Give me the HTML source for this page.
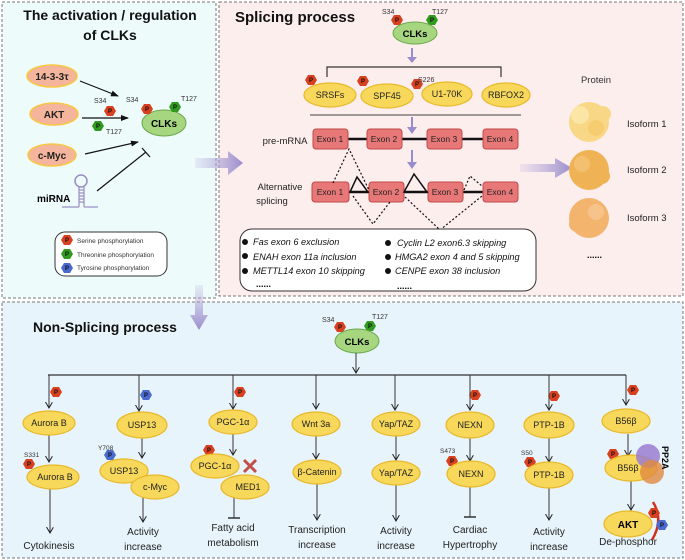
<!DOCTYPE html>
<html><head><meta charset="utf-8"><style>
html,body{margin:0;padding:0;background:#fff}
svg{display:block}
text{font-family:"Liberation Sans",sans-serif}
</style></head><body>
<svg width="685" height="560" viewBox="0 0 685 560" xmlns="http://www.w3.org/2000/svg">
<defs>
<linearGradient id="ga" x1="0" x2="1"><stop offset="0" stop-color="#b9b0dc" stop-opacity="0.2"/><stop offset="1" stop-color="#9a8ccc"/></linearGradient>
<linearGradient id="gd" x1="0" y1="0" x2="0" y2="1"><stop offset="0" stop-color="#b9b0dc" stop-opacity="0.2"/><stop offset="1" stop-color="#9a8ccc"/></linearGradient>
<marker id="ar" markerWidth="8" markerHeight="8" refX="6" refY="3.5" orient="auto" markerUnits="userSpaceOnUse"><path d="M0,0 L6,3.5 L0,7" fill="none" stroke="#222" stroke-width="1"/></marker>
<marker id="arf" markerWidth="8" markerHeight="8" refX="7" refY="4" orient="auto" markerUnits="userSpaceOnUse"><path d="M0,1 L8,4 L0,7z" fill="#111"/></marker>
</defs>
<rect x="2" y="2" width="214" height="296" fill="#eefbfb" stroke="#777" stroke-dasharray="3,2"/>
<rect x="219" y="2" width="464" height="294" fill="#fdeeee" stroke="#777" stroke-dasharray="3,2"/>
<rect x="2" y="302" width="681" height="256" fill="#e8f4fb" stroke="#777" stroke-dasharray="3,2"/>

<text x="110" y="20" font-size="14" font-weight="bold" text-anchor="middle" fill="#111">The activation / regulation</text>
<text x="110" y="40" font-size="14" font-weight="bold" text-anchor="middle" fill="#111">of CLKs</text>
<g stroke="#f7c842" stroke-width="1.5" fill="#f4b59c">
<ellipse cx="52" cy="76" rx="25" ry="11"/><ellipse cx="54" cy="114" rx="24" ry="11"/><ellipse cx="52" cy="155" rx="24" ry="11"/></g>
<g font-size="10" font-weight="bold" text-anchor="middle" fill="#222">
<text x="52" y="80">14-3-3τ</text><text x="54" y="118">AKT</text><text x="52" y="159">c-Myc</text></g>
<g stroke="#111" stroke-width="1.2" fill="none">
<line x1="80" y1="81" x2="118" y2="96" marker-end="url(#arf)"/>
<line x1="82" y1="118" x2="128" y2="118" marker-end="url(#arf)"/>
<line x1="85" y1="154" x2="138" y2="142" marker-end="url(#arf)"/>
<line x1="97" y1="191" x2="146" y2="152"/><line x1="142" y1="148" x2="150" y2="157"/></g>
<ellipse cx="164" cy="123" rx="22" ry="13" fill="#a6d680" stroke="#6aa84a"/>
<text x="164" y="127" font-size="10" font-weight="bold" text-anchor="middle">CLKs</text>
<text x="37" y="202" font-size="10" font-weight="bold">miRNA</text>
<circle cx="81" cy="181" r="6" fill="none" stroke="#9a8cc4" stroke-width="1.5"/>
<g stroke="#9a8cc4" stroke-width="1.2"><line x1="79" y1="187" x2="79" y2="207"/><line x1="84" y1="187" x2="84" y2="207"/>
<line x1="79" y1="190" x2="84" y2="190"/><line x1="79" y1="193" x2="84" y2="193"/><line x1="79" y1="196" x2="84" y2="196"/><line x1="79" y1="199" x2="84" y2="199"/><line x1="79" y1="202" x2="84" y2="202"/>
<line x1="62" y1="207" x2="79" y2="207"/><line x1="84" y1="207" x2="98" y2="207"/></g>
<rect x="55" y="232" width="112" height="44" rx="10" fill="#fff" stroke="#333"/>
<g font-size="6.5" fill="#333"><text x="77" y="243">Serine phosphorylation</text><text x="77" y="257">Threonine phosphorylation</text><text x="77" y="270">Tyrosine phosphorylation</text></g>

<g>
<polygon transform="translate(67,240)" points="6,0 3,5 -3,5 -6,0 -3,-5 3,-5" fill="#d8401f"/>
<polygon transform="translate(67,254)" points="6,0 3,5 -3,5 -6,0 -3,-5 3,-5" fill="#2f9a1e"/>
<polygon transform="translate(67,268)" points="6,0 3,5 -3,5 -6,0 -3,-5 3,-5" fill="#4a6ad0"/>
<polygon transform="translate(110,111)" points="6,0 3,5 -3,5 -6,0 -3,-5 3,-5" fill="#d8401f"/>
<polygon transform="translate(98,126)" points="6,0 3,5 -3,5 -6,0 -3,-5 3,-5" fill="#2f9a1e"/>
<polygon transform="translate(147,109)" points="6,0 3,5 -3,5 -6,0 -3,-5 3,-5" fill="#d8401f"/>
<polygon transform="translate(175,107)" points="6,0 3,5 -3,5 -6,0 -3,-5 3,-5" fill="#2f9a1e"/>
<polygon transform="translate(397,20)" points="6,0 3,5 -3,5 -6,0 -3,-5 3,-5" fill="#d8401f"/>
<polygon transform="translate(432,20)" points="6,0 3,5 -3,5 -6,0 -3,-5 3,-5" fill="#2f9a1e"/>
<polygon transform="translate(311,80)" points="6,0 3,5 -3,5 -6,0 -3,-5 3,-5" fill="#d8401f"/>
<polygon transform="translate(363,81)" points="6,0 3,5 -3,5 -6,0 -3,-5 3,-5" fill="#d8401f"/>
<polygon transform="translate(417,84)" points="6,0 3,5 -3,5 -6,0 -3,-5 3,-5" fill="#d8401f"/>
<polygon transform="translate(340,327)" points="6,0 3,5 -3,5 -6,0 -3,-5 3,-5" fill="#d8401f"/>
<polygon transform="translate(370,326)" points="6,0 3,5 -3,5 -6,0 -3,-5 3,-5" fill="#2f9a1e"/>
<polygon transform="translate(56,392)" points="6,0 3,5 -3,5 -6,0 -3,-5 3,-5" fill="#d8401f"/>
<polygon transform="translate(146,395)" points="6,0 3,5 -3,5 -6,0 -3,-5 3,-5" fill="#4a6ad0"/>
<polygon transform="translate(240,392)" points="6,0 3,5 -3,5 -6,0 -3,-5 3,-5" fill="#d8401f"/>
<polygon transform="translate(475,395)" points="6,0 3,5 -3,5 -6,0 -3,-5 3,-5" fill="#d8401f"/>
<polygon transform="translate(554,396)" points="6,0 3,5 -3,5 -6,0 -3,-5 3,-5" fill="#d8401f"/>
<polygon transform="translate(633,390)" points="6,0 3,5 -3,5 -6,0 -3,-5 3,-5" fill="#d8401f"/>
<polygon transform="translate(29,464)" points="6,0 3,5 -3,5 -6,0 -3,-5 3,-5" fill="#d8401f"/>
<polygon transform="translate(110,455)" points="6,0 3,5 -3,5 -6,0 -3,-5 3,-5" fill="#4a6ad0"/>
<polygon transform="translate(209,450)" points="6,0 3,5 -3,5 -6,0 -3,-5 3,-5" fill="#d8401f"/>
<polygon transform="translate(452,461)" points="6,0 3,5 -3,5 -6,0 -3,-5 3,-5" fill="#d8401f"/>
<polygon transform="translate(530,462)" points="6,0 3,5 -3,5 -6,0 -3,-5 3,-5" fill="#d8401f"/>
<polygon transform="translate(613,454)" points="6,0 3,5 -3,5 -6,0 -3,-5 3,-5" fill="#d8401f"/>
</g>

<polygon points="195,158 228,158 228,151 243,163 228,175 228,168 195,168" fill="url(#ga)"/>
<polygon points="195,285 195,315 190,315 199,330 208,315 203,315 203,285" fill="url(#gd)"/>

<text x="235" y="22" font-size="15" font-weight="bold" fill="#111">Splicing process</text>
<ellipse cx="415" cy="33" rx="22" ry="11" fill="#a6d680" stroke="#6aa84a"/>
<text x="415" y="37" font-size="9.5" font-weight="bold" text-anchor="middle">CLKs</text>
<g font-size="7" fill="#333"><text x="382" y="14">S34</text><text x="432" y="14">T127</text></g>
<line x1="412" y1="48" x2="412" y2="58" stroke="#9a8ccc" stroke-width="2"/><polygon points="407,57 417,57 412,63" fill="#9a8ccc"/>
<path d="M327,77 V67 H501 V77" fill="none" stroke="#333" stroke-width="1.2"/>
<g fill="#f7d85a" stroke="#e8b82a" stroke-width="1.2">
<ellipse cx="330" cy="95" rx="26" ry="12"/><ellipse cx="387" cy="96" rx="26" ry="12"/><ellipse cx="447" cy="94" rx="25" ry="12"/><ellipse cx="506" cy="95" rx="24" ry="12"/></g>
<g font-size="9" text-anchor="middle" fill="#222"><text x="330" y="98">SRSFs</text><text x="387" y="99">SPF45</text><text x="447" y="97">U1-70K</text><text x="506" y="98">RBFOX2</text></g>
<text x="418" y="82" font-size="7" fill="#333">S226</text>
<line x1="310" y1="115" x2="521" y2="115" stroke="#444"/>
<line x1="412" y1="117" x2="412" y2="128" stroke="#9a8ccc" stroke-width="2"/><polygon points="407,127 417,127 412,134" fill="#9a8ccc"/>
<line x1="412" y1="150" x2="412" y2="163" stroke="#9a8ccc" stroke-width="2"/><polygon points="407,162 417,162 412,169" fill="#9a8ccc"/>
<text x="285" y="144" font-size="9.5" text-anchor="middle" fill="#222">pre-mRNA</text>
<text x="280" y="190" font-size="9.5" text-anchor="middle" fill="#222">Alternative</text>
<text x="272" y="204" font-size="9.5" text-anchor="middle" fill="#222">splicing</text>
<line x1="340" y1="139" x2="490" y2="139" stroke="#111" stroke-width="2.5"/>
<line x1="340" y1="192" x2="490" y2="192" stroke="#111" stroke-width="2.5"/>
<g fill="#e87878" stroke="#c04848" stroke-width="1">
<rect x="313" y="129" width="35" height="20" rx="3"/><rect x="367" y="129" width="35" height="20" rx="3"/><rect x="427" y="129" width="35" height="20" rx="3"/><rect x="483" y="129" width="35" height="20" rx="3"/>
<rect x="312" y="182" width="37" height="20" rx="3"/><rect x="369" y="182" width="35" height="20" rx="3"/><rect x="428" y="182" width="35" height="20" rx="3"/><rect x="483" y="182" width="35" height="20" rx="3"/></g>
<g font-size="8.5" text-anchor="middle" fill="#222">
<text x="330" y="142">Exon 1</text><text x="384" y="142">Exon 2</text><text x="444" y="142">Exon 3</text><text x="500" y="142">Exon 4</text>
<text x="330" y="195">Exon 1</text><text x="386" y="195">Exon 2</text><text x="445" y="195">Exon 3</text><text x="500" y="195">Exon 4</text></g>
<g fill="none" stroke="#111" stroke-width="1.5"><polygon points="350,192 368,192 357,177"/><polygon points="404,192 427,192 414,174"/></g>
<g fill="none" stroke="#111" stroke-width="1.2" stroke-dasharray="2,2">
<polyline points="333,183 349,149 369,190"/><polyline points="353,196 373,224 390,202"/><polyline points="405,197 440,230 482,196"/><polyline points="464,190 470,176 482,186"/></g>
<rect x="240" y="229" width="296" height="62" rx="12" fill="#fff" stroke="#333"/>
<g font-size="9.2" font-style="italic" fill="#111">
<text x="253" y="245">Fas exon 6 exclusion</text><text x="253" y="260">ENAH exon 11a inclusion</text><text x="253" y="274">METTL14 exon 10 skipping</text>
<text x="397" y="246">Cyclin L2 exon6.3 skipping</text><text x="395" y="260">HMGA2 exon 4 and 5 skipping</text><text x="395" y="274">CENPE exon 38 inclusion</text></g>
<g fill="#111"><circle cx="245" cy="242" r="3"/><circle cx="245" cy="256" r="3"/><circle cx="245" cy="271" r="3"/><circle cx="388" cy="243" r="3"/><circle cx="388" cy="257" r="3"/><circle cx="388" cy="271" r="3"/></g>
<text x="256" y="287" font-size="9" font-weight="bold">......</text><text x="397" y="289" font-size="9" font-weight="bold">......</text>
<polygon points="520,164 555,164 555,158 572,168 555,178 555,172 520,172" fill="url(#ga)"/>
<text x="596" y="83" font-size="9.5" text-anchor="middle" fill="#333">Protein</text>
<g><circle cx="589" cy="122" r="20" fill="#f8d887"/><circle cx="580" cy="115" r="9" fill="#fbe6a6"/><circle cx="596" cy="128" r="8" fill="#f5cc70"/><circle cx="603" cy="114" r="8" fill="#f8d887"/>
<circle cx="589" cy="170" r="20" fill="#efb255"/><circle cx="582" cy="164" r="8" fill="#f3c070"/><circle cx="602" cy="176" r="8" fill="#efb255"/>
<circle cx="589" cy="218" r="20" fill="#f3b46d"/><circle cx="596" cy="212" r="8" fill="#f6c48a"/><circle cx="577" cy="224" r="8" fill="#f3b46d"/></g>
<g font-size="9.5" fill="#222"><text x="627" y="127">Isoform 1</text><text x="627" y="173">Isoform 2</text><text x="627" y="221">Isoform 3</text></g>
<text x="587" y="258" font-size="9" font-weight="bold">......</text>

<text x="33" y="332" font-size="14" font-weight="bold" fill="#111">Non-Splicing process</text>
<ellipse cx="357" cy="341" rx="22" ry="12" fill="#a6d680" stroke="#6aa84a"/>
<text x="357" y="345" font-size="9.5" font-weight="bold" text-anchor="middle">CLKs</text>
<g font-size="7" fill="#333"><text x="322" y="322">S34</text><text x="372" y="319">T127</text></g>
<line x1="356" y1="353" x2="356" y2="373" stroke="#333" marker-end="url(#ar)"/>
<line x1="48" y1="375" x2="626" y2="375" stroke="#333" stroke-width="1.2"/>
<g stroke="#333" stroke-width="1" fill="none">
<line x1="49" y1="375" x2="49" y2="408" marker-end="url(#ar)"/><line x1="139" y1="375" x2="139" y2="411" marker-end="url(#ar)"/>
<line x1="233" y1="375" x2="233" y2="409" marker-end="url(#ar)"/><line x1="316" y1="375" x2="316" y2="409" marker-end="url(#ar)"/>
<line x1="395" y1="375" x2="395" y2="410" marker-end="url(#ar)"/><line x1="470" y1="375" x2="470" y2="410" marker-end="url(#ar)"/>
<line x1="549" y1="375" x2="549" y2="410" marker-end="url(#ar)"/><line x1="626" y1="375" x2="626" y2="405" marker-end="url(#ar)"/>
<line x1="49" y1="435" x2="49" y2="462" marker-end="url(#ar)"/><line x1="142" y1="438" x2="142" y2="458" marker-end="url(#ar)"/>
<line x1="233" y1="434" x2="233" y2="455" marker-end="url(#ar)"/><line x1="316" y1="435" x2="316" y2="459" marker-end="url(#ar)"/>
<line x1="396" y1="435" x2="396" y2="460" marker-end="url(#ar)"/><line x1="470" y1="436" x2="470" y2="461" marker-end="url(#ar)"/>
<line x1="549" y1="437" x2="549" y2="462" marker-end="url(#ar)"/><line x1="628" y1="434" x2="628" y2="456" marker-end="url(#ar)"/>
<line x1="50" y1="488" x2="50" y2="533" marker-end="url(#ar)"/><line x1="143" y1="496" x2="143" y2="522" marker-end="url(#ar)"/>
<line x1="234" y1="498" x2="234" y2="518"/><line x1="228" y1="518" x2="240" y2="518" stroke-width="1.5"/>
<line x1="317" y1="484" x2="317" y2="520" marker-end="url(#ar)"/><line x1="396" y1="485" x2="396" y2="521" marker-end="url(#ar)"/>
<line x1="470" y1="486" x2="470" y2="517"/><line x1="464" y1="517" x2="476" y2="517" stroke-width="1.5"/>
<line x1="549" y1="488" x2="549" y2="520" marker-end="url(#ar)"/><line x1="631" y1="480" x2="631" y2="510" marker-end="url(#ar)"/></g>
<g fill="#f7d85a" stroke="#e8b82a" stroke-width="1.2">
<ellipse cx="49" cy="423" rx="26" ry="12"/><ellipse cx="142" cy="425" rx="25" ry="13"/><ellipse cx="233" cy="422" rx="24" ry="12"/><ellipse cx="316" cy="424" rx="24" ry="12"/>
<ellipse cx="396" cy="424" rx="24" ry="12"/><ellipse cx="470" cy="425" rx="24" ry="13"/><ellipse cx="549" cy="425" rx="25" ry="13"/><ellipse cx="626" cy="421" rx="24" ry="12"/>
<ellipse cx="53" cy="477" rx="26" ry="12"/><ellipse cx="124" cy="471" rx="24" ry="12"/><ellipse cx="155" cy="487" rx="24" ry="12"/>
<ellipse cx="215" cy="466" rx="24" ry="12"/><ellipse cx="245" cy="487" rx="24" ry="12"/><ellipse cx="317" cy="472" rx="24" ry="12"/>
<ellipse cx="396" cy="473" rx="24" ry="12"/><ellipse cx="471" cy="474" rx="24" ry="13"/><ellipse cx="549" cy="475" rx="24" ry="13"/><ellipse cx="631" cy="468" rx="26" ry="13"/>
<ellipse cx="628" cy="524" rx="24" ry="13"/></g>
<circle cx="648" cy="456" r="12" fill="#9a7cd0" fill-opacity="0.85"/><circle cx="652" cy="472" r="12" fill="#e08a40" fill-opacity="0.8"/>
<g font-size="9" text-anchor="middle" fill="#222">
<text x="49" y="426">Aurora B</text><text x="142" y="428">USP13</text><text x="233" y="425">PGC-1α</text><text x="316" y="427">Wnt 3a</text>
<text x="396" y="427">Yap/TAZ</text><text x="470" y="428">NEXN</text><text x="549" y="428">PTP-1B</text><text x="626" y="424">B56β</text>
<text x="55" y="480">Aurora B</text><text x="124" y="474">USP13</text><text x="155" y="490">c-Myc</text><text x="215" y="469">PGC-1α</text><text x="248" y="490">MED1</text>
<text x="317" y="475">β-Catenin</text><text x="396" y="476">Yap/TAZ</text><text x="471" y="477">NEXN</text><text x="549" y="478">PTP-1B</text><text x="628" y="471">B56β</text></g>
<text x="628" y="528" font-size="10" font-weight="bold" text-anchor="middle">AKT</text>
<g stroke="#c0504a" stroke-width="3"><line x1="244" y1="460" x2="256" y2="472"/><line x1="256" y1="460" x2="244" y2="472"/></g>
<text x="662" y="446" font-size="9" font-weight="bold" transform="rotate(90 662 446)">PP2A</text>
<path d="M653,502 Q664,520 652,540" fill="none" stroke="#d03020" stroke-width="2.5"/>
<polygon transform="translate(654,513)" points="6,0 3,5 -3,5 -6,0 -3,-5 3,-5" fill="#d8401f"/>
<polygon transform="translate(662,525)" points="6,0 3,5 -3,5 -6,0 -3,-5 3,-5" fill="#4a6ad0"/>
<g font-size="6.5" fill="#333"><text x="24" y="457">S331</text><text x="98" y="450">Y708</text><text x="440" y="453">S473</text><text x="521" y="455">S50</text></g>
<g font-size="10" text-anchor="middle" fill="#222">
<text x="49" y="549">Cytokinesis</text>
<text x="143" y="535">Activity</text><text x="143" y="550">increase</text>
<text x="233" y="531">Fatty acid</text><text x="233" y="546">metabolism</text>
<text x="317" y="533">Transcription</text><text x="317" y="548">increase</text>
<text x="396" y="534">Activity</text><text x="396" y="549">increase</text>
<text x="470" y="533">Cardiac</text><text x="470" y="548">Hypertrophy</text>
<text x="549" y="535">Activity</text><text x="549" y="550">increase</text>
<text x="628" y="545">De-phosphor</text></g>
<g font-size="6" font-weight="bold" text-anchor="middle" fill="#111">
<text x="67" y="242">P</text><text x="67" y="256">P</text><text x="67" y="270">P</text>
<text x="110" y="113">P</text><text x="98" y="128">P</text><text x="147" y="111">P</text><text x="175" y="109">P</text>
<text x="397" y="22">P</text><text x="432" y="22">P</text><text x="311" y="82">P</text><text x="363" y="83">P</text><text x="417" y="86">P</text>
<text x="340" y="329">P</text><text x="370" y="328">P</text><text x="56" y="394">P</text><text x="146" y="397">P</text><text x="240" y="394">P</text>
<text x="475" y="397">P</text><text x="554" y="398">P</text><text x="633" y="392">P</text><text x="29" y="466">P</text><text x="110" y="457">P</text>
<text x="209" y="452">P</text><text x="452" y="463">P</text><text x="530" y="464">P</text><text x="613" y="456">P</text><text x="654" y="515">P</text><text x="662" y="527">P</text></g>
<g font-size="7" fill="#333"><text x="126" y="102">S34</text><text x="94" y="103">S34</text><text x="106" y="134">T127</text><text x="181" y="101">T127</text></g>
</svg>
</body></html>
